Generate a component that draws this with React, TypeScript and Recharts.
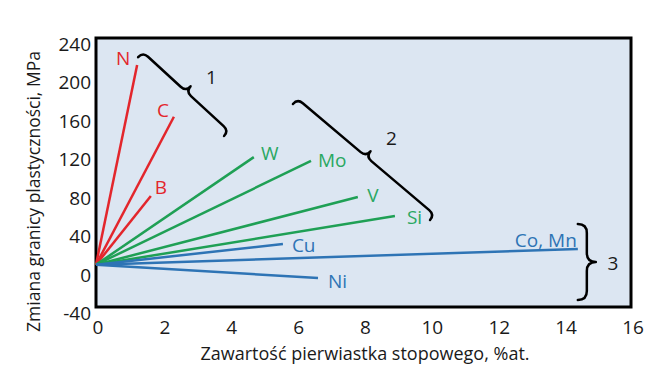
import React from 'react';
import { ComposedChart, Line, XAxis, YAxis, ReferenceArea, ReferenceLine, Label } from 'recharts';

// ---- data ----
const elements = ['N', 'C', 'B', 'W', 'Mo', 'V', 'Si', 'Cu', 'Co, Mn', 'Ni'];
const groups = ['1', '1', '1', '2', '2', '2', '2', '3', '3', '3'];
const endX = [1.23, 2.33, 1.64, 4.72, 6.43, 7.83, 8.94, 5.59, 14.41, 6.64];
const endY = [212, 158, 75.5, 116, 112, 74.5, 54.7, 25.6, 20.4, -9.8];
const originX = 0;
const originY = 4;
const xTicks = [0, 2, 4, 6, 8, 10, 12, 14, 16];
const yTicks = [-40, 0, 40, 80, 120, 160, 200, 240];
const braceLabels = ['1', '2', '3'];
const braceStartX = [1.26, 5.89, 14.41];
const braceStartY = [220, 171.3, 46.4];
const braceEndX = [3.83, 9.99, 14.41];
const braceEndY = [138, 50.6, -32.7];
const xTitle = 'Zawartość pierwiastka stopowego, %at.';
const yTitle = 'Zmiana granicy plastyczności, MPa';

// ---- styles ----
const FONT = '"Open Sans", sans-serif';
const TEXT = '#1a1a1a';
const groupColor: Record<string, string> = { '1': '#e3262c', '2': '#1fa055', '3': '#2e74b5' };
const labelColor: Record<string, string> = { '1': '#e3262c', '2': '#2aa862', '3': '#2e74b5' };
const labelPos: Record<string, { dx: number; dy: number; anchor: string }> = {
  N: { dx: -14, dy: -7, anchor: 'middle' },
  C: { dx: -11, dy: -7, anchor: 'middle' },
  B: { dx: 10, dy: -9, anchor: 'middle' },
  W: { dx: 16, dy: -4, anchor: 'middle' },
  Mo: { dx: 7, dy: -1, anchor: 'start' },
  V: { dx: 15, dy: -2, anchor: 'middle' },
  Si: { dx: 12, dy: 1, anchor: 'start' },
  Cu: { dx: 9, dy: 1, anchor: 'start' },
  'Co, Mn': { dx: -1, dy: -9, anchor: 'end' },
  Ni: { dx: 10, dy: 3, anchor: 'start' },
};
const braceStyle = [
  { h: 14, ldx: 21, ldy: -9 },
  { h: 14, ldx: 21, ldy: -13 },
  { h: 18, ldx: 17, ldy: 1 },
];

const XTick = (p: any) => (
  <text x={p.x + 2} y={p.y + 20} textAnchor="middle" dominantBaseline="central"
    fontFamily={FONT} fontSize={19} fill={TEXT}>{p.payload.value}</text>
);
const YTick = (p: any) => (
  <text x={p.x} y={p.y + 6} textAnchor="end" dominantBaseline="central"
    fontFamily={FONT} fontSize={19} fill={TEXT}>{p.payload.value}</text>
);

const makeBrace = (i: number) => (p: any) => {
  const { x1, y1, x2, y2 } = p;
  if (x1 == null) return <g />;
  const dx = x2 - x1;
  const dy = y2 - y1;
  const L = Math.hypot(dx, dy);
  const a = (Math.atan2(dy, dx) * 180) / Math.PI;
  const { h, ldx, ldy } = braceStyle[i];
  const r = h / 2;
  const d = `M 0 0 Q 0 ${-r} ${r} ${-r} L ${L / 2 - r} ${-r} Q ${L / 2} ${-r} ${L / 2} ${-h} ` +
    `Q ${L / 2} ${-r} ${L / 2 + r} ${-r} L ${L - r} ${-r} Q ${L} ${-r} ${L} 0`;
  const rad = (a * Math.PI) / 180;
  const tipX = x1 + (dx / 2) + Math.sin(rad) * h;
  const tipY = y1 + (dy / 2) - Math.cos(rad) * h;
  return (
    <g>
      <path d={d} transform={`translate(${x1},${y1}) rotate(${a})`} fill="none" stroke="#000"
        strokeWidth={2.5} strokeLinecap="round" strokeLinejoin="round" />
      <text x={tipX + ldx} y={tipY + ldy} textAnchor="middle" dominantBaseline="central"
        fontFamily={FONT} fontSize={19} fill={TEXT}>{braceLabels[i]}</text>
    </g>
  );
};

const makeLabel = (i: number) => (p: any) => {
  if (p.index !== 1) return null;
  const name = elements[i];
  const pos = labelPos[name];
  return (
    <text x={p.x + pos.dx} y={p.y + pos.dy} textAnchor={pos.anchor} dominantBaseline="central"
      fontFamily={FONT} fontSize={19} fill={labelColor[groups[i]]}>{name}</text>
  );
};

export default function App() {
  return (
    <div style={{ position: 'absolute', left: 0, top: 0, background: '#fff' }}>
      <ComposedChart width={654} height={371} margin={{ top: 38, right: 23, bottom: 0, left: 0 }}>
        <XAxis dataKey="x" type="number" domain={[0, 16]} ticks={xTicks} axisLine={false}
          tickLine={false} tickSize={0} tickMargin={0} height={64} tick={<XTick />} interval={0}>
          <Label content={(p: any) => {
            const vb = p.viewBox;
            return (
              <text x={vb.x + vb.width / 2 + 1.5} y={vb.y + 46} textAnchor="middle" dominantBaseline="central"
                fontFamily={FONT} fontSize={18} fill={TEXT}>{xTitle}</text>
            );
          }} />
        </XAxis>
        <YAxis type="number" domain={[-40, 240]} ticks={yTicks} axisLine={false} tickLine={false}
          tickSize={0} tickMargin={5} width={96} tick={<YTick />} interval={0}>
          <Label content={(p: any) => {
            const vb = p.viewBox;
            const cx = vb.x + 33;
            const cy = vb.y + vb.height / 2 + 19;
            return (
              <text x={cx} y={cy} transform={`rotate(-90, ${cx}, ${cy})`} textAnchor="middle"
                dominantBaseline="central" fontFamily={FONT} fontSize={17.5} fill={TEXT}>{yTitle}</text>
            );
          }} />
        </YAxis>
        <ReferenceArea x1={0} x2={16} y1={-40} y2={240} fill="#dce6f2" fillOpacity={1}
          stroke="#000" strokeWidth={3} />
        {elements.map((name, i) => (
          <Line key={name} data={[{ x: originX, y: originY }, { x: endX[i], y: endY[i] }]}
            dataKey="y" stroke={groupColor[groups[i]]} strokeWidth={2.5} dot={false}
            activeDot={false} isAnimationActive={false} label={makeLabel(i)} />
        ))}
        {braceLabels.map((b, i) => (
          <ReferenceLine key={b}
            segment={[{ x: braceStartX[i], y: braceStartY[i] }, { x: braceEndX[i], y: braceEndY[i] }]}
            shape={makeBrace(i)} />
        ))}
      </ComposedChart>
    </div>
  );
}
